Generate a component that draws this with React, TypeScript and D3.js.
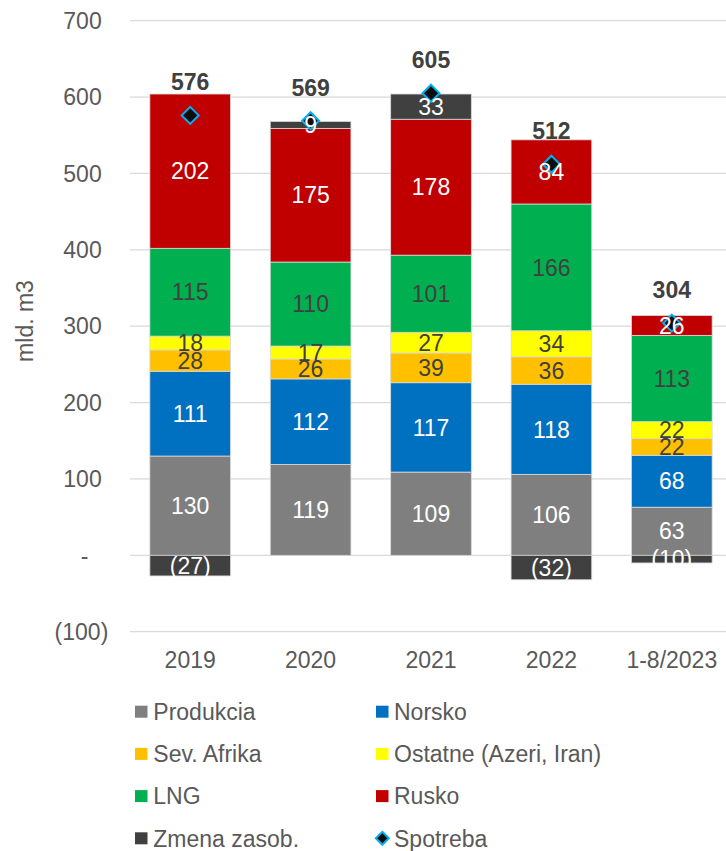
import React from "react";
import * as d3 from "d3";

const categories = ["2019", "2020", "2021", "2022", "1-8/2023"];
const produkcia = [130, 119, 109, 106, 63];
const norsko = [111, 112, 117, 118, 68];
const sevAfrika = [28, 26, 39, 36, 22];
const ostatne = [18, 17, 27, 34, 22];
const lng = [115, 110, 101, 166, 113];
const rusko = [202, 175, 178, 84, 26];
const zmena = [-27, 9, 33, -32, -10];
const spotreba = [576, 569, 605, 512, 304];
const yTicks = [-100, 0, 100, 200, 300, 400, 500, 600, 700];

const seriesDefs = [
  { key: "produkcia", name: "Produkcia", values: produkcia, color: "#7F7F7F", text: "#FFFFFF" },
  { key: "norsko", name: "Norsko", values: norsko, color: "#0070C0", text: "#FFFFFF" },
  { key: "sevAfrika", name: "Sev. Afrika", values: sevAfrika, color: "#FFC000", text: "#404040" },
  { key: "ostatne", name: "Ostatne (Azeri, Iran)", values: ostatne, color: "#FFFF00", text: "#404040" },
  { key: "lng", name: "LNG", values: lng, color: "#00B050", text: "#404040" },
  { key: "rusko", name: "Rusko", values: rusko, color: "#C00000", text: "#FFFFFF" },
  { key: "zmena", name: "Zmena zasob.", values: zmena, color: "#404040", text: "#FFFFFF" },
];

const FONT = "'Liberation Sans', Arial, sans-serif";
const FS = 23;

const fmt = (v: number) => (v < 0 ? `(${Math.abs(v)})` : `${v}`);

export default function App() {
  const W = 726;
  const H = 851;
  const x = d3
    .scaleBand<string>()
    .domain(categories)
    .range([130, 732])
    .paddingInner(0.33)
    .paddingOuter(0.165);
  const y = d3.scaleLinear().domain([-100, 700]).range([631.7, 20.7]);

  const rows = categories.map((c, i) => {
    const r: any = { cat: c };
    seriesDefs.forEach((s) => (r[s.key] = s.values[i]));
    return r;
  });
  const stack = d3
    .stack<any>()
    .keys(seriesDefs.map((s) => s.key))
    .offset(d3.stackOffsetDiverging);
  const stacked = stack(rows);

  const diamond = (cx: number, cy: number, r: number) =>
    `M${cx},${cy - r}L${cx + r},${cy}L${cx},${cy + r}L${cx - r},${cy}Z`;

  const legendRows = [
    [seriesDefs[0], seriesDefs[1]],
    [seriesDefs[2], seriesDefs[3]],
    [seriesDefs[4], seriesDefs[5]],
    [seriesDefs[6], null],
  ];

  return (
    <svg
      width={W}
      height={H}
      style={{ position: "absolute", left: 0, top: 0, background: "#fff" }}
      fontFamily={FONT}
    >
      {/* gridlines */}
      {yTicks.map((t) => (
        <line key={t} x1={130} x2={W} y1={y(t)} y2={y(t)} stroke="#D9D9D9" strokeWidth={1.3} />
      ))}
      {/* tick labels */}
      {yTicks.map((t) => (
        <text
          key={"t" + t}
          x={t < 0 ? 108.3 : t === 0 ? 88.5 : 101.7}
          y={y(t) + 8.2}
          textAnchor="end"
          fontSize={FS}
          fill="#595959"
        >
          {t === 0 ? "-" : fmt(t)}
        </text>
      ))}
      {/* y title */}
      <text
        transform={`translate(33,321) rotate(-90)`}
        textAnchor="middle"
        fontSize={FS}
        fill="#595959"
      >
        mld. m3
      </text>
      {/* bars */}
      {stacked.map((layer, li) =>
        layer.map((d, i) => {
          const y0 = y(Math.max(d[0], d[1]));
          const y1 = y(Math.min(d[0], d[1]));
          return (
            <rect
              key={`${li}-${i}`}
              x={x(categories[i])!}
              width={x.bandwidth()}
              y={y0}
              height={Math.max(0, y1 - y0)}
              fill={seriesDefs[li].color}
              stroke="#D9D9D9"
              strokeWidth={0.8}
            />
          );
        })
      )}
      {/* spotreba diamonds */}
      {spotreba.map((v, i) => (
        <path
          key={"d" + i}
          d={diamond(x(categories[i])! + x.bandwidth() / 2, y(v), 8.5)}
          fill="#0D0D0D"
          stroke="#00B0F0"
          strokeWidth={2}
        />
      ))}
      {/* segment labels */}
      {stacked.map((layer, li) =>
        layer.map((d, i) => {
          const mid = (d[0] + d[1]) / 2;
          return (
            <text
              key={`l${li}-${i}`}
              x={x(categories[i])! + x.bandwidth() / 2}
              y={y(mid) + 8.2}
              textAnchor="middle"
              fontSize={FS}
              fill={seriesDefs[li].text}
            >
              {fmt(seriesDefs[li].values[i])}
            </text>
          );
        })
      )}
      {/* spotreba labels */}
      {spotreba.map((v, i) => (
        <text
          key={"s" + i}
          x={x(categories[i])! + x.bandwidth() / 2}
          y={y(v) - 25}
          textAnchor="middle"
          fontSize={FS}
          fontWeight="bold"
          fill="#404040"
        >
          {v}
        </text>
      ))}
      {/* category labels */}
      {categories.map((c) => (
        <text
          key={"c" + c}
          x={x(c)! + x.bandwidth() / 2}
          y={667.7}
          textAnchor="middle"
          fontSize={FS}
          fill="#595959"
        >
          {c}
        </text>
      ))}
      {/* legend */}
      {legendRows.map((row, ri) => {
        const cy = 711.7 + ri * 42.2;
        return (
          <g key={"lg" + ri}>
            {row.map((s, ci) => {
              const sx = ci === 0 ? 135 : 376;
              const tx = ci === 0 ? 153.3 : 394;
              if (s) {
                return (
                  <g key={s.key}>
                    <rect x={sx} y={cy - 6} width={12.5} height={12} fill={s.color} />
                    <text x={tx} y={cy + 8.2} fontSize={FS} fill="#595959">
                      {s.name}
                    </text>
                  </g>
                );
              }
              return (
                <g key="spot">
                  <path d={diamond(sx + 6.3, cy, 6.5)} fill="#0D0D0D" stroke="#00B0F0" strokeWidth={2} />
                  <text x={tx} y={cy + 8.2} fontSize={FS} fill="#595959">
                    Spotreba
                  </text>
                </g>
              );
            })}
          </g>
        );
      })}
    </svg>
  );
}
